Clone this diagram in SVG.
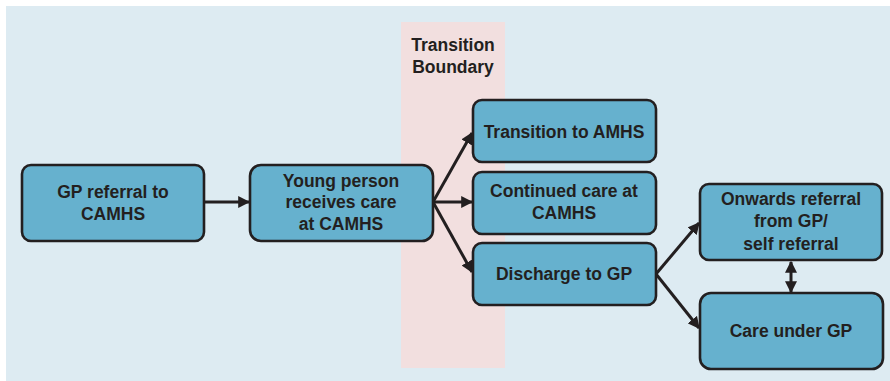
<svg xmlns="http://www.w3.org/2000/svg" width="890" height="381" viewBox="0 0 890 381">
<defs>
<style>
.box{fill:#66B1CE;stroke:#231F20;stroke-width:2.6}
.t{font-family:"Liberation Sans",Arial,sans-serif;font-weight:bold;font-size:17.5px;fill:#231F20;text-anchor:middle}
.c{stroke:#231F20;stroke-width:3;fill:none}
</style>
<marker id="ah" viewBox="0 0 10 10" refX="9" refY="5" markerWidth="4" markerHeight="4" orient="auto-start-reverse" markerUnits="strokeWidth">
<path d="M0,0 L10,5 L0,10 Z" fill="#231F20"/>
</marker>
</defs>
<rect x="0" y="0" width="890" height="381" fill="#FFFFFF"/>
<rect x="6" y="6" width="884" height="375" fill="#DDEBF2"/>
<rect x="401" y="22" width="104" height="346" fill="#F2DFDF"/>
<g id="boundary-label">
<text class="t" x="453" y="51">Transition</text>
<text class="t" x="453" y="73">Boundary</text>
</g>
<g id="connectors">
<line class="c" x1="204" y1="202" x2="249" y2="202" marker-end="url(#ah)"/>
<line class="c" x1="433" y1="202" x2="472" y2="133" marker-end="url(#ah)"/>
<line class="c" x1="433" y1="202" x2="472" y2="202" marker-end="url(#ah)"/>
<line class="c" x1="433" y1="202" x2="472" y2="272" marker-end="url(#ah)"/>
<line class="c" x1="656" y1="274" x2="699" y2="223" marker-end="url(#ah)"/>
<line class="c" x1="656" y1="274" x2="699" y2="328" marker-end="url(#ah)"/>
<line class="c" x1="791" y1="262" x2="791" y2="292" marker-start="url(#ah)" marker-end="url(#ah)"/>
</g>
<g id="gp-referral">
<rect class="box" x="22" y="165" width="182" height="76" rx="9"/>
<text class="t" x="113" y="198">GP referral to</text>
<text class="t" x="113" y="220">CAMHS</text>
</g>
<g id="young-person">
<rect class="box" x="250" y="165" width="183" height="76" rx="11"/>
<text class="t" x="341" y="187">Young person</text>
<text class="t" x="341" y="208">receives care</text>
<text class="t" x="341" y="230">at CAMHS</text>
</g>
<g id="transition-amhs">
<rect class="box" x="473" y="100" width="183" height="62" rx="9"/>
<text class="t" x="564" y="138">Transition to AMHS</text>
</g>
<g id="continued-care">
<rect class="box" x="473" y="172" width="183" height="62" rx="9"/>
<text class="t" x="564" y="197">Continued care at</text>
<text class="t" x="564" y="219">CAMHS</text>
</g>
<g id="discharge-gp">
<rect class="box" x="473" y="243" width="183" height="62" rx="9"/>
<text class="t" x="564" y="280">Discharge to GP</text>
</g>
<g id="onwards-referral">
<rect class="box" x="700" y="184" width="182" height="76" rx="9"/>
<text class="t" x="791" y="205">Onwards referral</text>
<text class="t" x="791" y="227">from GP/</text>
<text class="t" x="791" y="250">self referral</text>
</g>
<g id="care-under-gp">
<rect class="box" x="700" y="293" width="183" height="76" rx="11"/>
<text class="t" x="791" y="337">Care under GP</text>
</g>
</svg>
